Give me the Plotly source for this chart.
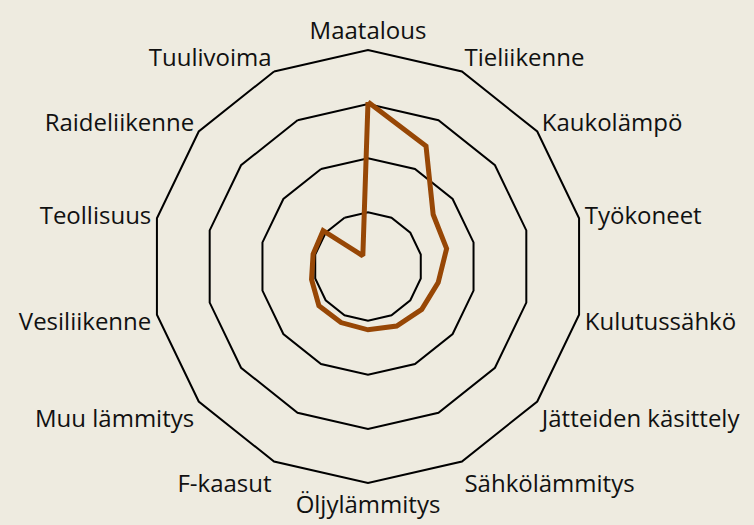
import plotly.graph_objects as go

categories = ["Maatalous", "Tieliikenne", "Kaukolämpö", "Työkoneet", "Kulutussähkö",
              "Jätteiden käsittely", "Sähkölämmitys", "Öljylämmitys", "F-kaasut",
              "Muu lämmitys", "Vesiliikenne", "Teollisuus", "Raideliikenne", "Tuulivoima"]
values = [3.04, 2.47, 1.54, 1.49, 1.33, 1.27, 1.22, 1.17, 1.15, 1.16, 1.07, 1.04, 1.06, 0.22]

fig = go.Figure()
fig.add_trace(go.Scatterpolar(
    r=values + [values[0]],
    theta=categories + [categories[0]],
    mode="lines",
    line=dict(color="#974706", width=5),
    hoverinfo="skip",
    showlegend=False,
))

W, H = 754, 525
cx, cy, R = 368, 266.5, 216.5
fig.update_layout(
    width=W, height=H,
    margin=dict(l=0, r=0, t=0, b=0, autoexpand=False),
    paper_bgcolor="#EEEBE0",
    plot_bgcolor="#EEEBE0",
    font=dict(family="Open Sans", size=24, color="#111111"),
    polar=dict(
        bgcolor="#EEEBE0",
        gridshape="linear",
        domain=dict(x=[(cx - R) / W, (cx + R) / W],
                    y=[(H - cy - R) / H, (H - cy + R) / H]),
        radialaxis=dict(range=[0, 4], dtick=1, showticklabels=False, ticks="",
                        showline=False, gridcolor="black", gridwidth=1.8),
        angularaxis=dict(direction="clockwise", rotation=90, showgrid=False,
                         showline=True, linecolor="black", linewidth=2, ticks="",
                         tickfont=dict(family="Open Sans", size=24, color="#111111")),
    ),
)
fig.write_html("out.html", config={"displayModeBar": False},
               post_script="document.body.style.margin='0';document.body.style.overflow='hidden';")
